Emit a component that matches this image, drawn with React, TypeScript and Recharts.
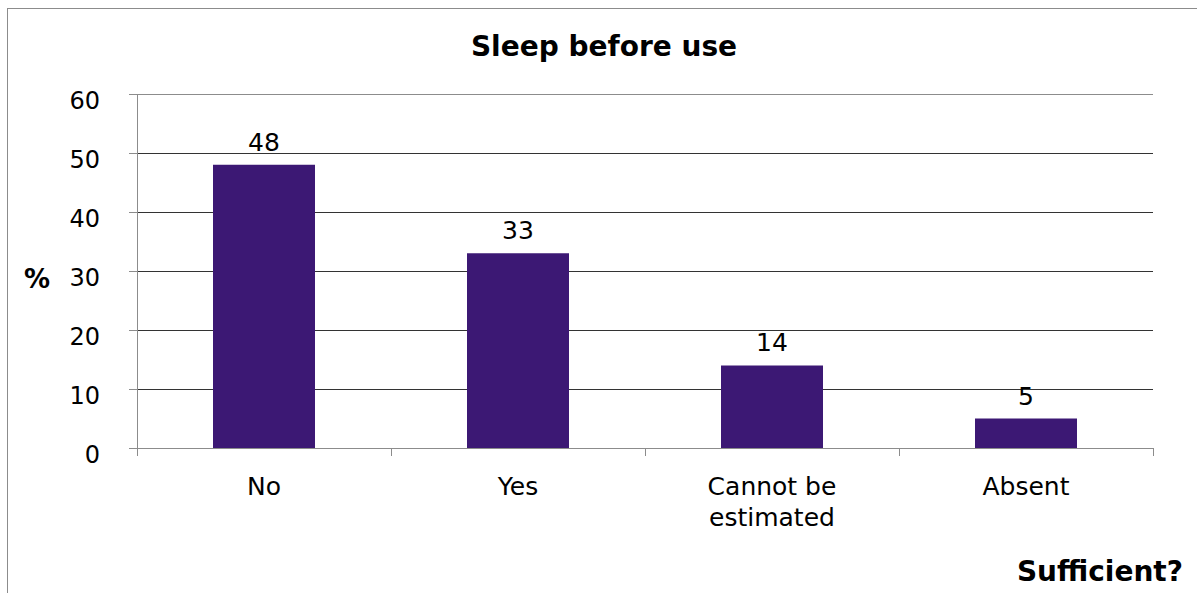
import React from 'react';
import { BarChart, Bar, XAxis, YAxis, CartesianGrid, LabelList, ReferenceLine } from 'recharts';

// Survey answers: was sleep sufficient before use?
const categories = ['No', 'Yes', 'Cannot be\nestimated', 'Absent'];
const shares = [48, 33, 14, 5];
const yTicks = [0, 10, 20, 30, 40, 50, 60];

const data = categories.map((category, i) => ({ category, value: shares[i] }));

const W = 1197;
const H = 593;
const MARGIN = { top: 94, right: 44, bottom: 85, left: 0 };
const Y_AXIS_W = 137;
const X_AXIS_H = 60;
const PLOT_LEFT = MARGIN.left + Y_AXIS_W;
const PLOT_RIGHT = W - MARGIN.right;
const PLOT_BOTTOM = H - MARGIN.bottom - X_AXIS_H;
const BAND = (PLOT_RIGHT - PLOT_LEFT) / categories.length;

const FONT = '"DejaVu Sans", Verdana, sans-serif';
const FRAME = '#8c8c8c';
const GRID = '#333333';
const BAR = '#3c1874';

function CategoryTick(props: any) {
  const { x, payload, index } = props;
  const lines = String(payload.value).split('\n');
  const y0 = PLOT_BOTTOM;
  return (
    <g>
      <line x1={x - BAND / 2} x2={x - BAND / 2} y1={y0} y2={y0 + 8} stroke={FRAME} />
      {index === categories.length - 1 && (
        <line x1={x + BAND / 2} x2={x + BAND / 2} y1={y0} y2={y0 + 8} stroke={FRAME} />
      )}
      <text x={x} y={y0 + 47} textAnchor="middle" fontFamily={FONT} fontSize={25} fill="#000">
        {lines.map((l, i) => (
          <tspan key={i} x={x} dy={i === 0 ? 0 : 31}>
            {l}
          </tspan>
        ))}
      </text>
    </g>
  );
}

function ValueTick(props: any) {
  const { y, payload } = props;
  return (
    <text x={PLOT_LEFT - 37} y={y + 15} textAnchor="end" fontFamily={FONT} fontSize={24} fill="#000">
      {payload.value}
    </text>
  );
}

function ValueLabel(props: any) {
  const { x, y, width, value } = props;
  return (
    <text
      x={Number(x) + Number(width) / 2}
      y={Number(y) - 14}
      textAnchor="middle"
      fontFamily={FONT}
      fontSize={25}
      fill="#000"
    >
      {value}
    </text>
  );
}

export default function App() {
  return (
    <div style={{ position: 'fixed', left: 0, top: 0, width: W, height: H, background: '#fff' }}>
      <style>{`.sleep-chart line { shape-rendering: crispEdges; }`}</style>
      <div className="sleep-chart" style={{ position: 'absolute', left: 0, top: 0 }}>
        <BarChart width={W} height={H} data={data} margin={MARGIN}>
          <CartesianGrid vertical={false} stroke={GRID} />
          <XAxis
            dataKey="category"
            height={X_AXIS_H}
            tickLine={false}
            axisLine={{ stroke: FRAME }}
            tick={<CategoryTick />}
            interval={0}
          />
          <YAxis
            width={Y_AXIS_W}
            domain={[0, 60]}
            ticks={yTicks}
            tickSize={8}
            tickLine={{ stroke: FRAME }}
            axisLine={{ stroke: FRAME }}
            tick={<ValueTick />}
          />
          <YAxis
            yAxisId="frame"
            orientation="right"
            width={0}
            domain={[0, 60]}
            tick={false}
            tickLine={false}
            axisLine={{ stroke: FRAME }}
          />
          <ReferenceLine y={60} stroke={FRAME} />
          <Bar dataKey="value" fill={BAR} barSize={102} isAnimationActive={false}>
            <LabelList dataKey="value" content={<ValueLabel />} />
          </Bar>
        </BarChart>
      </div>
      <svg
        className="sleep-chart"
        width={W}
        height={H}
        style={{ position: 'absolute', left: 0, top: 0, pointerEvents: 'none' }}
      >
        <line x1={7} x2={W} y1={8.5} y2={8.5} stroke={FRAME} />
        <line x1={7.5} x2={7.5} y1={8} y2={H} stroke={FRAME} />
        <text x={604} y={56} textAnchor="middle" fontFamily={FONT} fontWeight="bold" fontSize={28} fill="#000">
          Sleep before use
        </text>
        <text x={37} y={288} textAnchor="middle" fontFamily={FONT} fontWeight="bold" fontSize={26} fill="#000">
          %
        </text>
        <text x={1183} y={581} textAnchor="end" fontFamily={FONT} fontWeight="bold" fontSize={28} fill="#000">
          Sufficient?
        </text>
      </svg>
    </div>
  );
}
